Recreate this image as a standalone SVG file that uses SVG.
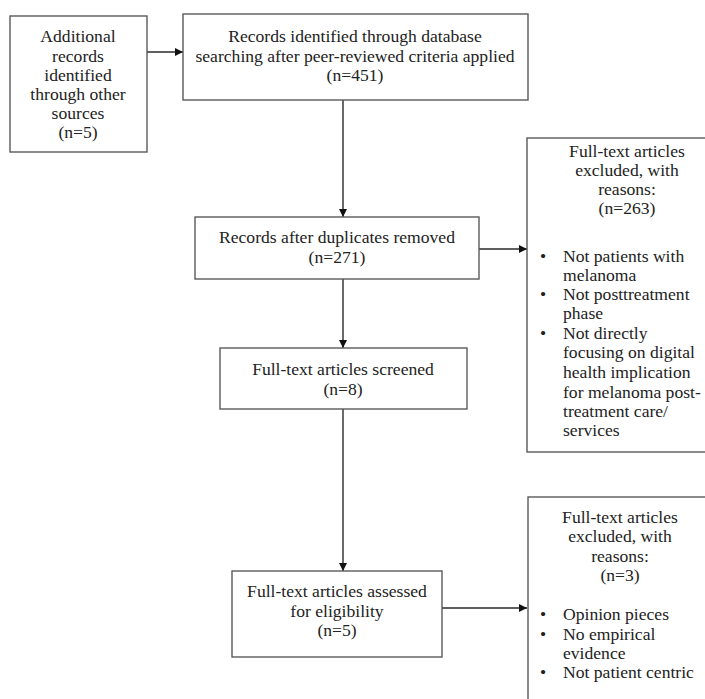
<svg xmlns="http://www.w3.org/2000/svg" width="705" height="699" viewBox="0 0 705 699">
  <style>
    .box { fill: #ffffff; stroke: #5a5a5a; stroke-width: 1.4; }
    .line { fill: none; stroke: #2a2a2a; stroke-width: 1.4; }
    text { font-family: "Liberation Serif", "Times New Roman", serif; font-size: 17.6px; fill: #222222; }
    .c { text-anchor: middle; }
  </style>
  <defs>
    <marker id="arrow" viewBox="0 0 10 10" refX="10" refY="5" markerWidth="8" markerHeight="8" markerUnits="userSpaceOnUse" orient="auto">
      <path d="M0,0 L10,5 L0,10 Z" fill="#111111"/>
    </marker>
  </defs>
  <rect width="705" height="699" fill="#ffffff"/>

  <g id="connectors">
    <line class="line" x1="147" y1="52" x2="183" y2="52" marker-end="url(#arrow)"/>
    <line class="line" x1="343" y1="100" x2="343" y2="217" marker-end="url(#arrow)"/>
    <line class="line" x1="479" y1="249" x2="527" y2="249" marker-end="url(#arrow)"/>
    <line class="line" x1="343" y1="279" x2="343" y2="348" marker-end="url(#arrow)"/>
    <line class="line" x1="343" y1="409" x2="343" y2="571" marker-end="url(#arrow)"/>
    <line class="line" x1="442" y1="608" x2="527" y2="608" marker-end="url(#arrow)"/>
  </g>

  <g id="other-sources">
    <rect class="box" x="10" y="16" width="137" height="136"/>
    <text class="c" x="78" y="42">Additional</text>
    <text class="c" x="78" y="62">records</text>
    <text class="c" x="78" y="81">identified</text>
    <text class="c" x="78" y="100">through other</text>
    <text class="c" x="78" y="119">sources</text>
    <text class="c" x="78" y="138">(n=5)</text>
  </g>

  <g id="database-search">
    <rect class="box" x="183" y="14" width="345" height="86"/>
    <text class="c" x="355" y="42">Records identified through database</text>
    <text class="c" x="355" y="62">searching after peer-reviewed criteria applied</text>
    <text class="c" x="355" y="81">(n=451)</text>
  </g>

  <g id="duplicates-removed">
    <rect class="box" x="195" y="217" width="284" height="62"/>
    <text class="c" x="337" y="243">Records after duplicates removed</text>
    <text class="c" x="337" y="263">(n=271)</text>
  </g>

  <!-- right-hand exclusion boxes run past the right edge of the page -->
  <g id="excluded-263">
    <rect class="box" x="527" y="138" width="190" height="314"/>
    <text class="c" x="627" y="157">Full-text articles</text>
    <text class="c" x="627" y="176">excluded, with</text>
    <text class="c" x="627" y="195">reasons:</text>
    <text class="c" x="627" y="214">(n=263)</text>
    <text x="540" y="262">•</text>
    <text x="563" y="262">Not patients with</text>
    <text x="563" y="281">melanoma</text>
    <text x="540" y="300">•</text>
    <text x="563" y="300">Not posttreatment</text>
    <text x="563" y="319">phase</text>
    <text x="540" y="339">•</text>
    <text x="563" y="339">Not directly</text>
    <text x="563" y="358">focusing on digital</text>
    <text x="563" y="378">health implication</text>
    <text x="563" y="398">for melanoma post-</text>
    <text x="563" y="417">treatment care/</text>
    <text x="563" y="436">services</text>
  </g>

  <g id="screened">
    <rect class="box" x="220" y="348" width="247" height="61"/>
    <text class="c" x="343" y="375">Full-text articles screened</text>
    <text class="c" x="343" y="395">(n=8)</text>
  </g>

  <g id="eligibility">
    <rect class="box" x="232" y="571" width="210" height="86"/>
    <text class="c" x="337" y="597">Full-text articles assessed</text>
    <text class="c" x="337" y="617">for eligibility</text>
    <text class="c" x="337" y="636">(n=5)</text>
  </g>

  <g id="excluded-3">
    <rect class="box" x="528" y="497" width="190" height="220"/>
    <text class="c" x="620" y="523">Full-text articles</text>
    <text class="c" x="620" y="542">excluded, with</text>
    <text class="c" x="620" y="562">reasons:</text>
    <text class="c" x="620" y="581">(n=3)</text>
    <text x="540" y="620">•</text>
    <text x="563" y="620">Opinion pieces</text>
    <text x="540" y="640">•</text>
    <text x="563" y="640">No empirical</text>
    <text x="563" y="659">evidence</text>
    <text x="540" y="678">•</text>
    <text x="563" y="678">Not patient centric</text>
  </g>
</svg>
